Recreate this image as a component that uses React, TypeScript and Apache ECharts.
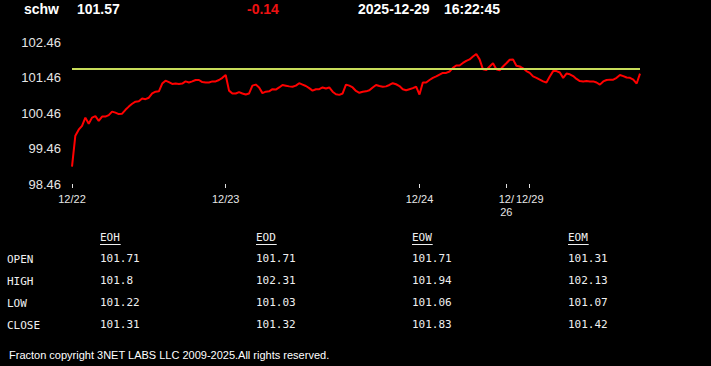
import React, { useEffect, useRef } from 'react';
import * as echarts from 'echarts';

const tickerSymbol = 'schw';
const lastPrice = '101.57';
const priceChange = '-0.14';
const dateText = '2025-12-29';
const timeText = '16:22:45';

const prices = [
  98.95, 99.82, 99.99, 100.10, 100.33, 100.16, 100.33, 100.37, 100.24, 100.36,
  100.36, 100.40, 100.50, 100.47, 100.43, 100.44, 100.55, 100.64, 100.72, 100.78,
  100.79, 100.87, 100.85, 100.89, 101.01, 101.06, 101.07, 101.29, 101.37, 101.33,
  101.28, 101.29, 101.28, 101.29, 101.35, 101.32, 101.35, 101.39, 101.39, 101.33,
  101.32, 101.32, 101.35, 101.35, 101.39, 101.45, 101.53, 101.09, 101.01, 101.01,
  101.05, 101.01, 100.98, 101.01, 101.23, 101.26, 101.18, 101.02, 101.06, 101.07,
  101.13, 101.12, 101.18, 101.25, 101.23, 101.21, 101.20, 101.23, 101.30, 101.26,
  101.22, 101.16, 101.09, 101.13, 101.13, 101.18, 101.15, 101.18, 101.06, 100.99,
  100.97, 101.01, 101.26, 101.23, 101.18, 101.08, 101.03, 101.06, 101.07, 101.10,
  101.18, 101.25, 101.22, 101.20, 101.21, 101.25, 101.30, 101.27, 101.22, 101.13,
  101.10, 101.13, 101.16, 101.20, 100.98, 101.32, 101.32, 101.39, 101.45, 101.49,
  101.54, 101.59, 101.59, 101.63, 101.73, 101.80, 101.80, 101.87, 101.93, 101.97,
  102.05, 102.12, 101.97, 101.69, 101.67, 101.77, 101.86, 101.69, 101.66, 101.77,
  101.86, 101.96, 101.97, 101.79, 101.77, 101.72, 101.64, 101.59, 101.49, 101.45,
  101.40, 101.35, 101.32, 101.49, 101.64, 101.64, 101.60, 101.45, 101.57, 101.55,
  101.50, 101.42, 101.36, 101.35, 101.36, 101.35, 101.35, 101.32, 101.26, 101.35,
  101.39, 101.40, 101.40, 101.45, 101.53, 101.50, 101.46, 101.45, 101.40, 101.29,
  101.57,
];

const dayTickIndex = [0, 46, 104, 130, 137];
const dayTickLabels = ['12/22', '12/23', '12/24', '12/26', '12/29'];

const yMin = 98.46;
const yMax = 102.46;
const yStep = 1;

const openLevel = [101.71];

const tableColumns = ['EOH', 'EOD', 'EOW', 'EOM'];
const rowLabels = ['OPEN', 'HIGH', 'LOW', 'CLOSE'];
const eohValues = ['101.71', '101.8', '101.22', '101.31'];
const eodValues = ['101.71', '102.31', '101.03', '101.32'];
const eowValues = ['101.71', '101.94', '101.06', '101.83'];
const eomValues = ['101.31', '102.13', '101.07', '101.42'];

const footerText = 'Fracton copyright 3NET LABS LLC 2009-2025.All rights reserved.';

export default function App() {
  const ref = useRef<HTMLDivElement>(null);

  useEffect(() => {
    document.body.style.margin = '0';
    document.body.style.background = '#000';
    if (!ref.current) return;
    const chart = echarts.init(ref.current, undefined, { renderer: 'svg' });

    const categories = prices.map((_, i) => String(i));
    const tickSet = new Set(dayTickIndex);
    const labelFor = (i: number) => {
      const k = dayTickIndex.indexOf(i);
      if (k < 0) return '';
      const s = dayTickLabels[k];
      return s === '12/26' ? '12/\n26' : s;
    };

    const headerFont = {
      fontFamily: 'Liberation Sans, Arial, sans-serif',
      fontSize: 14,
      fontWeight: 'bold' as const,
      verticalAlign: 'middle' as const,
    };
    const monoFont = {
      fontFamily: 'DejaVu Sans Mono, monospace',
      fontSize: 11,
      verticalAlign: 'middle' as const,
      fill: '#f0f0f0',
    };

    const colX = [100, 256, 412, 568];
    const rowY = [258.5, 280.5, 302.5, 324];
    const colValues = [eohValues, eodValues, eowValues, eomValues];

    const graphics: any[] = [
      { type: 'text', x: 24, y: 9, style: { text: tickerSymbol, fill: '#fff', ...headerFont } },
      { type: 'text', x: 77, y: 9, style: { text: lastPrice, fill: '#fff', ...headerFont } },
      { type: 'text', x: 247, y: 9, style: { text: priceChange, fill: '#ee1111', ...headerFont } },
      { type: 'text', x: 358, y: 9, style: { text: dateText, fill: '#fff', ...headerFont } },
      { type: 'text', x: 444, y: 9, style: { text: timeText, fill: '#fff', ...headerFont } },
    ];
    tableColumns.forEach((c, ci) => {
      graphics.push({ type: 'text', x: colX[ci], y: 237.5, style: { text: c, ...monoFont } });
      graphics.push({
        type: 'line',
        shape: { x1: colX[ci], y1: 244.5, x2: colX[ci] + c.length * 6.9, y2: 244.5 },
        style: { stroke: '#f0f0f0', lineWidth: 1 },
      });
      colValues[ci].forEach((v, ri) => {
        graphics.push({ type: 'text', x: colX[ci], y: rowY[ri], style: { text: v, ...monoFont } });
      });
    });
    rowLabels.forEach((r, ri) => {
      graphics.push({ type: 'text', x: 7, y: rowY[ri] + 1, style: { text: r, ...monoFont } });
    });
    graphics.push({
      type: 'text',
      x: 9,
      y: 355,
      style: {
        text: footerText,
        fill: '#fff',
        fontFamily: 'Liberation Sans, Arial, sans-serif',
        fontSize: 11,
        verticalAlign: 'middle',
      },
    });

    chart.setOption({
      animation: false,
      backgroundColor: '#000',
      grid: { left: 72, top: 42, width: 568, height: 142 },
      xAxis: {
        type: 'category',
        boundaryGap: false,
        data: categories,
        axisLine: { show: false },
        axisTick: {
          show: true,
          interval: (i: number) => tickSet.has(i),
          length: 4,
          lineStyle: { color: '#e0e0e0', width: 1 },
        },
        axisLabel: {
          interval: (i: number) => tickSet.has(i),
          formatter: (_v: string, i: number) => labelFor(i),
          color: '#e6e6e6',
          fontSize: 11,
          lineHeight: 13,
          margin: 8,
          fontFamily: 'Liberation Sans, Arial, sans-serif',
        },
        splitLine: { show: false },
      },
      yAxis: {
        type: 'value',
        min: yMin,
        max: yMax,
        interval: yStep,
        axisLine: { show: false },
        axisTick: { show: false },
        splitLine: { show: false },
        axisLabel: {
          formatter: (v: number) => v.toFixed(2),
          color: '#e6e6e6',
          fontSize: 13,
          margin: 11,
          fontFamily: 'Liberation Sans, Arial, sans-serif',
        },
      },
      series: [
        {
          type: 'line',
          data: prices,
          showSymbol: false,
          symbol: 'none',
          lineStyle: { color: '#ff0000', width: 2 },
          silent: true,
          markLine: {
            silent: true,
            symbol: ['none', 'none'],
            label: { show: false },
            lineStyle: { color: '#c8dc5a', width: 2, type: 'solid' },
            data: openLevel.map((v) => ({ yAxis: v })),
          },
        },
      ],
      graphic: graphics,
    });

    return () => chart.dispose();
  }, []);

  return <div ref={ref} style={{ width: 711, height: 366, background: '#000' }} />;
}
